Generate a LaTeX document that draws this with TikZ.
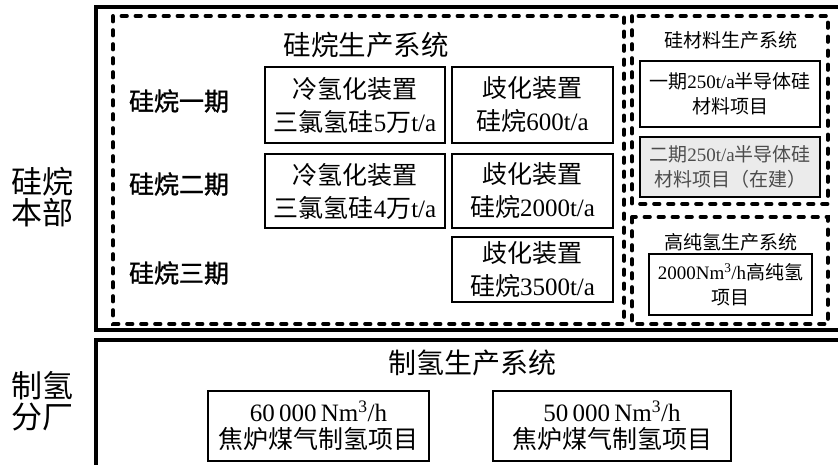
\documentclass[tikz,border=0pt]{standalone}
\usepackage{fontspec}
\setmainfont{Liberation Serif}
\newfontfamily\cjk{Noto Sans CJK SC}
\newfontfamily\cjkbold[FakeBold=1.2]{Noto Sans CJK SC}
\newcommand{\zh}[1]{{\cjk #1}}
\begin{document}
\begin{tikzpicture}[x=1pt,y=-1pt,
  solidbox/.style={draw, line width=4pt},
  dashbox/.style={draw, line width=3.6pt, dash pattern=on 5.6pt off 8.4pt, line cap=round},
  unitbox/.style={draw, line width=1.8pt, align=center, inner sep=0pt, font=\fontsize{25}{33}\selectfont},
  smallbox/.style={draw, line width=1.8pt, align=center, inner sep=0pt, font=\fontsize{19}{25}\selectfont},
  h2box/.style={draw, line width=1.8pt, align=center, inner sep=0pt, font=\fontsize{25}{27}\selectfont},
  bigtitle/.style={font=\cjk\fontsize{27.5}{30}\selectfont, inner sep=0pt},
  smalltitle/.style={font=\cjk\fontsize{19}{22}\selectfont, inner sep=0pt},
  rowlabel/.style={font=\cjkbold\fontsize{25}{30}\selectfont, inner sep=0pt},
  sidelabel/.style={font=\cjk\fontsize{31}{31}\selectfont, align=center, inner sep=0pt}
]
\useasboundingbox (0,0) rectangle (838,465);
\clip (0,0) rectangle (838,465);

% outer solid frames
\draw[solidbox] (96,7) rectangle (900,330);
\draw[solidbox] (96,340) rectangle (900,520);

% side labels
\node[sidelabel] (sl1) at (42,197) {硅烷\\本部};
\node[sidelabel] (sl2) at (42,401) {制氢\\分厂};

% dashed system boxes
\draw[dashbox] (113,16) rectangle (624,324);
\draw[dashbox] (632,16) rectangle (828,204);
\draw[dashbox] (632,217) rectangle (828,324);

% silane system
\node[bigtitle] (t1) at (366,45) {硅烷生产系统};
\node[rowlabel] (r1) at (179,101) {硅烷一期};
\node[rowlabel] (r2) at (179,184) {硅烷二期};
\node[rowlabel] (r3) at (179,273) {硅烷三期};

\node[unitbox, minimum width=180pt, minimum height=76pt] (a) at (355,105)
  {\zh{冷氢化装置}\\\zh{三氯氢硅}5\zh{万}t/a};
\node[unitbox, minimum width=161pt, minimum height=76pt] (b) at (532.5,105)
  {\zh{歧化装置}\\\zh{硅烷}600t/a};
\node[unitbox, minimum width=180pt, minimum height=74pt] (c) at (355,191)
  {\zh{冷氢化装置}\\\zh{三氯氢硅}4\zh{万}t/a};
\node[unitbox, minimum width=161pt, minimum height=74pt] (d) at (532.5,191)
  {\zh{歧化装置}\\\zh{硅烷}2000t/a};
\node[unitbox, minimum width=161pt, minimum height=65pt] (e) at (532.5,269.5)
  {\zh{歧化装置}\\\zh{硅烷}3500t/a};

% silicon material system
\node[smalltitle] (t2) at (731,40) {硅材料生产系统};
\node[smallbox, minimum width=180pt, minimum height=66pt] (f) at (730,94)
  {\zh{一期}250t/a\zh{半导体硅}\\\zh{材料项目}};
\node[smallbox, minimum width=180pt, minimum height=60pt, fill=black!8, text=black!70] (g) at (730,167)
  {\zh{二期}250t/a\zh{半导体硅}\\\zh{材料项目（在建）}};

% high purity hydrogen system
\node[smalltitle] (t3) at (731,242) {高纯氢生产系统};
\node[smallbox, minimum width=163pt, minimum height=61pt] (h) at (730.5,284.5)
  {2000Nm\textsuperscript{3}/h\zh{高纯氢}\\\zh{项目}};

% hydrogen plant
\node[bigtitle, font=\cjk\fontsize{28}{30}\selectfont] (t4) at (472,363) {制氢生产系统};
\node[h2box, minimum width=221pt, minimum height=70pt] (i) at (318.5,426)
  {60\,000\,Nm\textsuperscript{3}/h\\\zh{焦炉煤气制氢项目}};
\node[h2box, minimum width=238pt, minimum height=70pt] (j) at (612,426)
  {50\,000\,Nm\textsuperscript{3}/h\\\zh{焦炉煤气制氢项目}};
\end{tikzpicture}
\end{document}
